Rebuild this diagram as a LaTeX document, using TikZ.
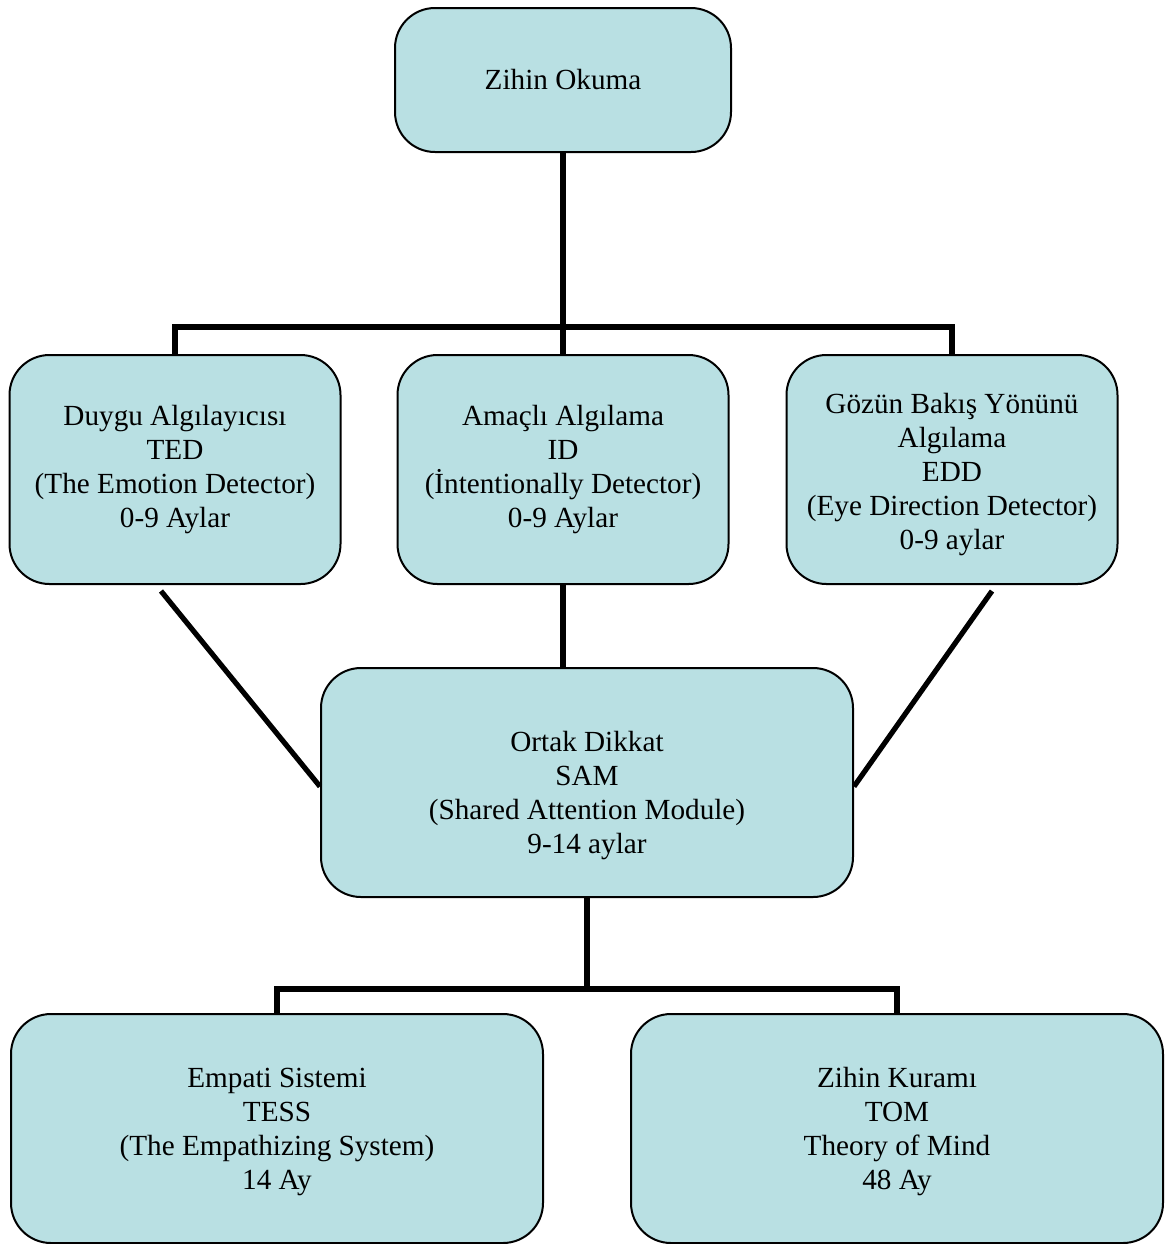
\documentclass[tikz,border=0pt]{standalone}
\usepackage{fontspec}
\setmainfont{Liberation Serif}
\usepackage{xcolor}
\usetikzlibrary{positioning}
\definecolor{modulmavi}{RGB}{185,224,227}
\tikzstyle{modul} = [rectangle, rounded corners=20pt, minimum width=165.5pt, minimum height=114.5pt, align=center, draw=black, line width=1pt, fill=modulmavi, font=\fontsize{14.6}{17}\selectfont, inner sep=0pt]
\tikzstyle{genis} = [modul, minimum width=266pt]
\tikzstyle{baglanti} = [line width=2.6pt, line join=miter]

\begin{document}
\begin{tikzpicture}[x=0.5pt, y=-0.5pt, node distance=100.5pt]
\useasboundingbox (0,0) rectangle (1165,1244);

% Zihin okuma
\node (oku) [modul, minimum width=168pt, minimum height=72pt] at (563,80) {Zihin Okuma};

% 0-9 ay
\node (id) [modul, below=of oku] {Amaçlı Algılama\\ID\\(İntentionally Detector)\\0-9 Aylar};
\node (ted) [modul, left=27.5pt of id] {Duygu Algılayıcısı\\TED\\(The Emotion Detector)\\0-9 Aylar};
\node (edd) [modul, right=28pt of id] {\rule{0pt}{15pt}Gözün Bakış Yönünü\\Algılama\\EDD\\(Eye Direction Detector)\\0-9 aylar};

% Ortak dikkat
\node (sam) [genis] at (587,782.5) {\rule{0pt}{23pt}Ortak Dikkat\\SAM\\(Shared Attention Module)\\9-14 aylar};

% Empati ve zihin kuramı
\node (tess) [genis] at (277,1128.5) {\rule{0pt}{13pt}Empati Sistemi\\TESS\\(The Empathizing System)\\14 Ay};
\node (tom) [genis] at (897,1128.5) {\rule{0pt}{13pt}Zihin Kuramı\\TOM\\Theory of Mind\\48 Ay};

% Baglantilar
\coordinate (catal) at (563,327);
\coordinate (catal2) at (587,989);
\draw[baglanti] (oku.south) -- (catal);
\draw[baglanti] (ted.north) |- (catal) -| (edd.north);
\draw[baglanti] (catal) -- (id.north);
\draw[baglanti] (id.south) -- (sam.north -| id.south);
\draw[baglanti] ([xshift=-7pt,yshift=-3pt]ted.south) -- ([yshift=-2pt]sam.west);
\draw[baglanti] ([xshift=20pt,yshift=-3pt]edd.south) -- ([yshift=-2pt]sam.east);
\draw[baglanti] (sam.south) -- (catal2);
\draw[baglanti] (tess.north) |- (catal2) -| (tom.north);

\end{tikzpicture}
\end{document}
